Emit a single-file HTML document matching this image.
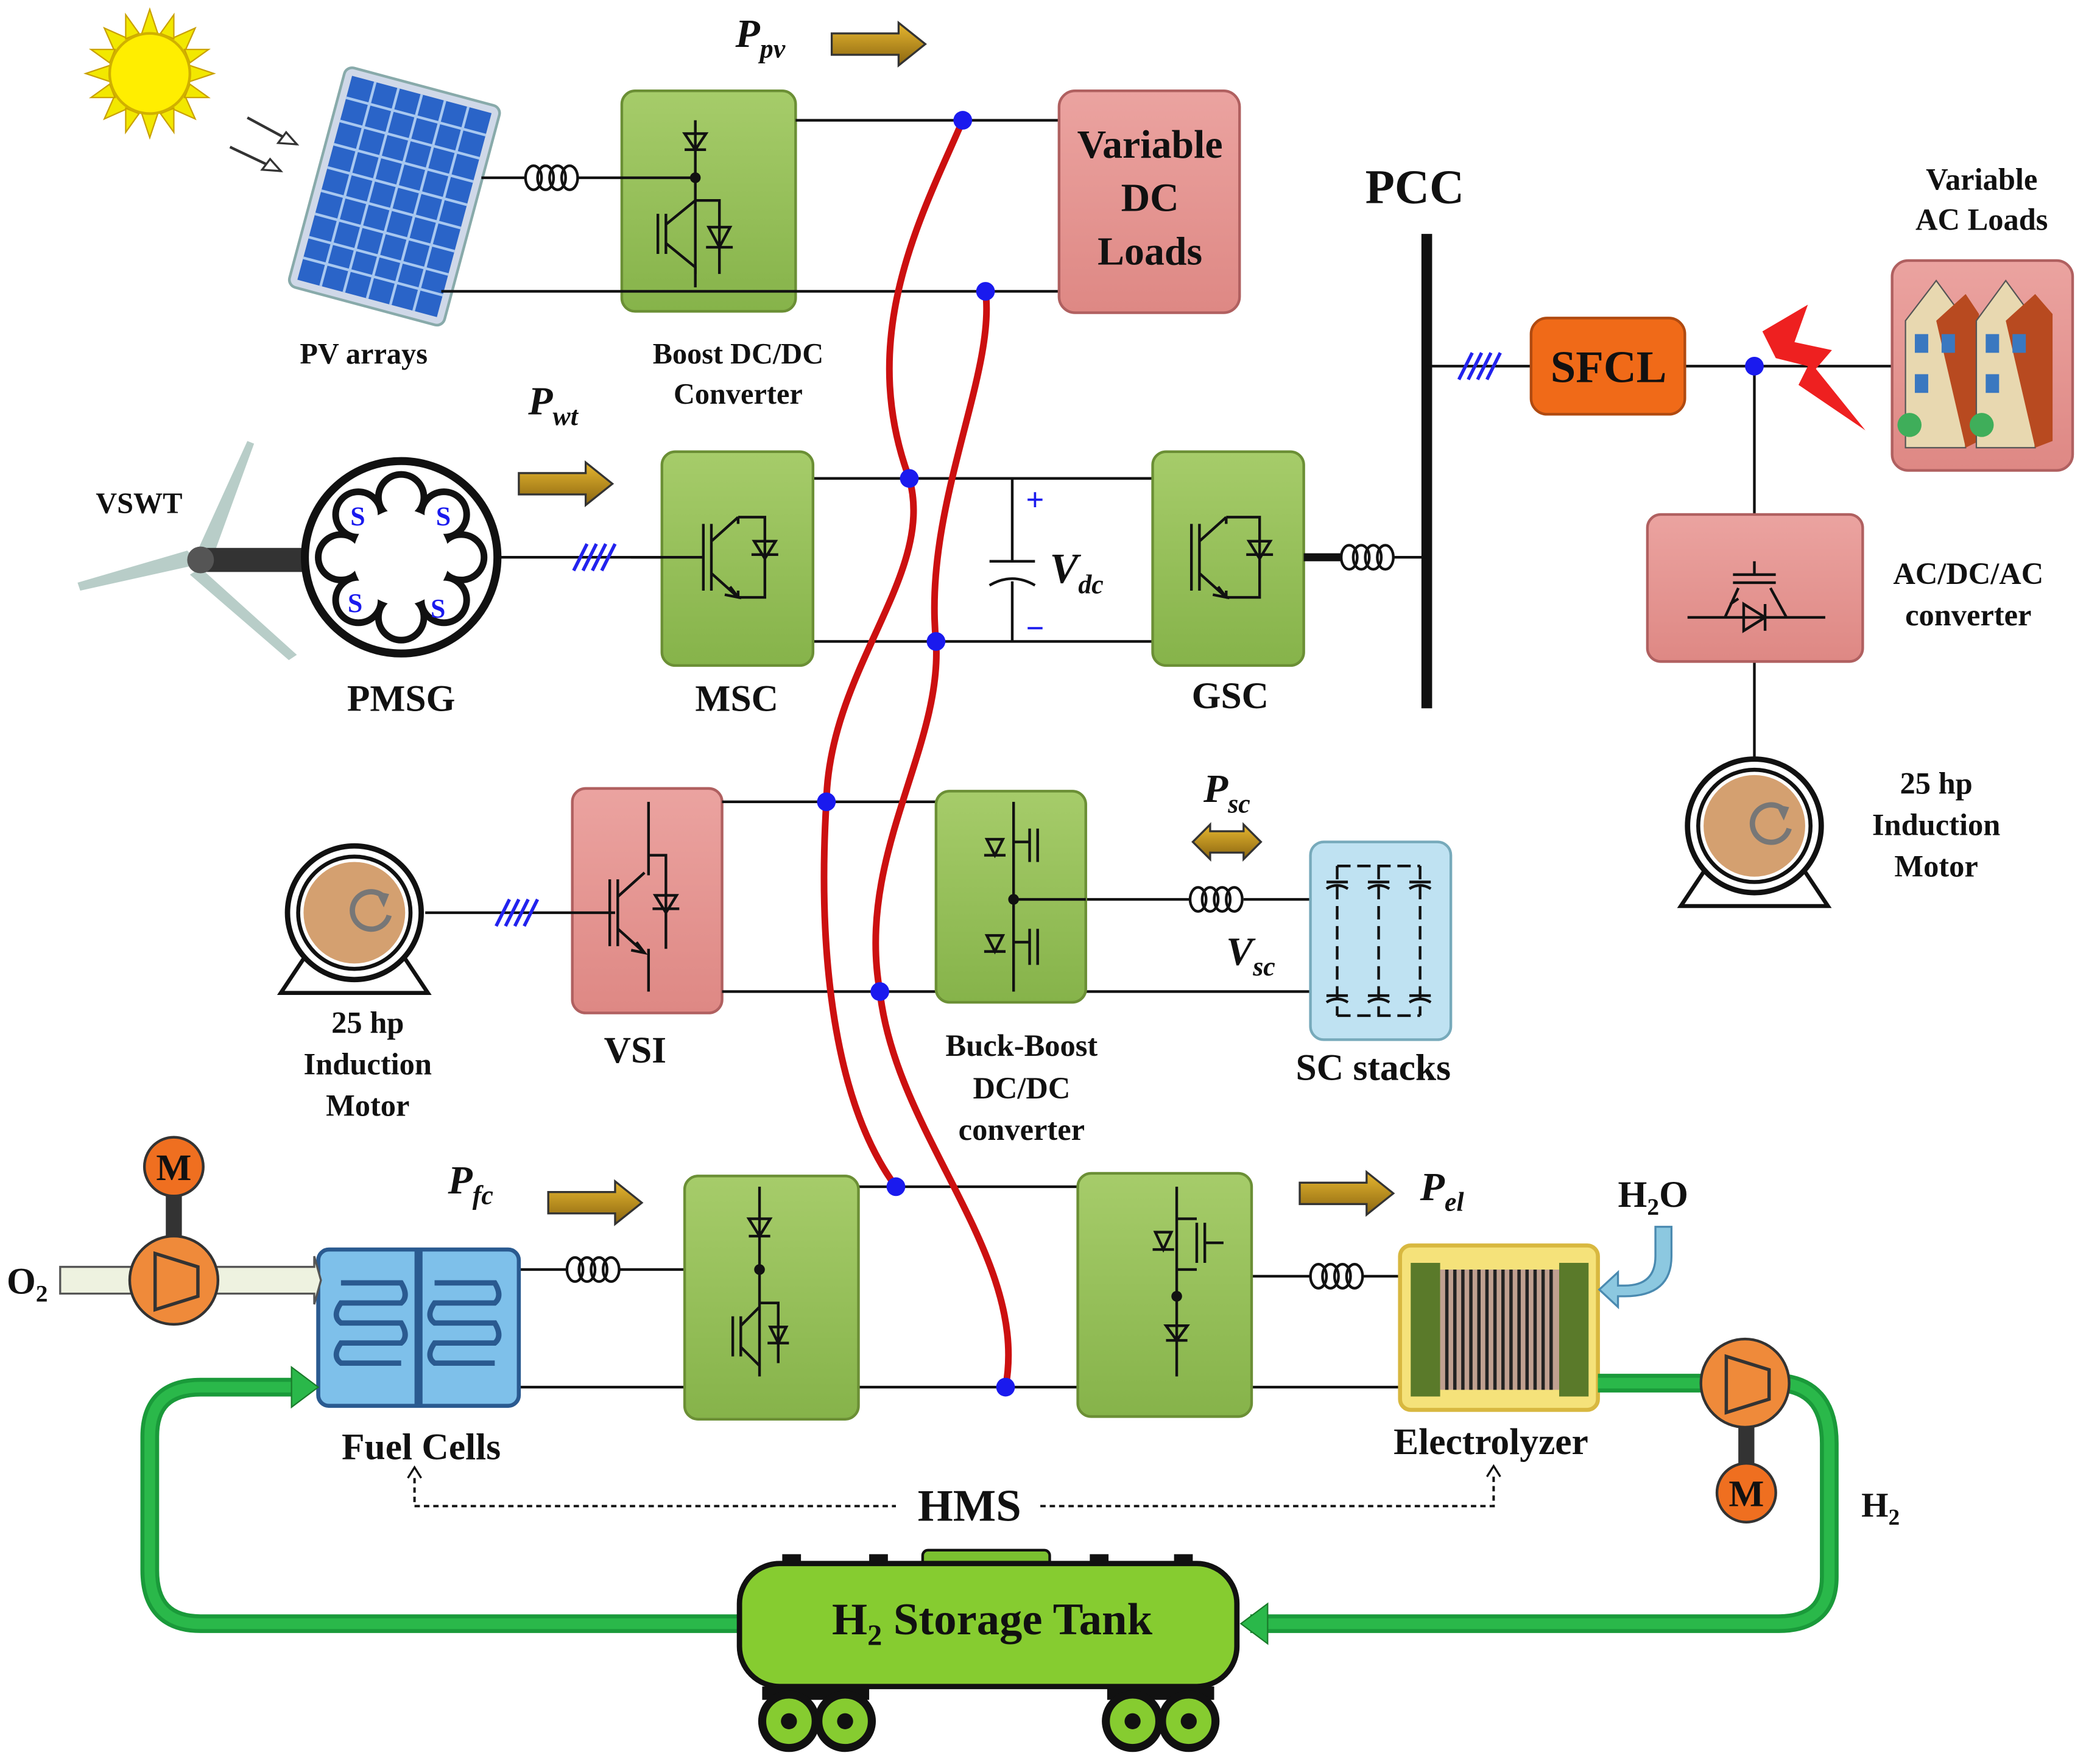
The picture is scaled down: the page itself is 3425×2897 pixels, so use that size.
<!DOCTYPE html>
<html><head><meta charset="utf-8"><style>html,body{margin:0;padding:0;background:#fff}svg{display:block}
text{font-family:"Liberation Serif",serif;font-weight:bold;fill:#111}
.it{font-style:italic}</style></head><body>
<svg width="3425" height="2897" viewBox="0 0 1560 1320" preserveAspectRatio="none" xmlns="http://www.w3.org/2000/svg">
<defs>
<linearGradient id="gr" x1="0" y1="0" x2="0" y2="1"><stop offset="0" stop-color="#a6cc6a"/><stop offset="1" stop-color="#86b34a"/></linearGradient>
<linearGradient id="pk" x1="0" y1="0" x2="0" y2="1"><stop offset="0" stop-color="#eba3a0"/><stop offset="1" stop-color="#de8884"/></linearGradient>
<linearGradient id="ar" x1="0" y1="0" x2="0" y2="1"><stop offset="0" stop-color="#e8b830"/><stop offset="1" stop-color="#8a6510"/></linearGradient>
<g id="ind" fill="none" stroke="#111" stroke-width="2"><ellipse cx="6" cy="0" rx="6" ry="9"/><ellipse cx="15" cy="0" rx="6" ry="9"/><ellipse cx="24" cy="0" rx="6" ry="9"/><ellipse cx="33" cy="0" rx="6" ry="9"/></g>
<g id="arrow"><path d="M0 -8 L50 -8 L50 -16 L70 0 L50 16 L50 8 L0 8 Z" fill="url(#ar)" stroke="#333" stroke-width="1.5"/></g>
<g id="hash"><path d="M-14 10 L-4 -10 M-7 10 L3 -10 M0 10 L10 -10 M7 10 L17 -10" stroke="#2222ee" stroke-width="2.5"/></g>
<g id="sw" fill="none" stroke="#111" stroke-width="2"><path d="M-14 -25 V25 M-8 -25 V25 M-8 -12 L12 -30 M-8 12 L12 30 M6 22 L12 30 L2 28"/></g>
<g id="motor"><path d="M-55 60 L-35 30 L35 30 L55 60 Z" fill="#fff" stroke="#111" stroke-width="3"/><circle r="50" fill="#fff" stroke="#111" stroke-width="4"/><circle r="42" fill="#fff" stroke="#111" stroke-width="3"/><circle r="38" fill="#d4a070"/><path d="M26 2 A14 14 0 1 1 22 -12" fill="none" stroke="#777" stroke-width="4"/><path d="M16 -16 L26 -14 L22 -4 Z" fill="#777"/></g>
<g id="comp"><circle r="33" fill="#ef8a3a" stroke="#333" stroke-width="2"/><path d="M-14 -20 L18 -10 L18 12 L-14 22 Z" fill="#ef8a3a" stroke="#333" stroke-width="2.5"/></g>
<g id="mm"><circle r="22" fill="#ef6f20" stroke="#333" stroke-width="2"/><text x="0" y="10" font-size="28" text-anchor="middle">M</text></g>
</defs>

<!-- sun -->
<g transform="translate(112,55)"><g fill="#f2e800" stroke="#c9a000" stroke-width="1">
<polygon points="0,-48 6,-30 -6,-30" /><polygon points="0,48 6,30 -6,30"/><polygon points="-48,0 -30,6 -30,-6"/><polygon points="48,0 30,6 30,-6"/>
<polygon points="34,-34 26,-16 16,-26"/><polygon points="-34,34 -26,16 -16,26"/><polygon points="34,34 26,16 16,26"/><polygon points="-34,-34 -26,-16 -16,-26"/>
<polygon points="18,-44 18,-26 8,-30"/><polygon points="-18,44 -18,26 -8,30"/><polygon points="44,18 26,18 30,8"/><polygon points="-44,-18 -26,-18 -30,-8"/>
<polygon points="-18,-44 -8,-30 -18,-26"/><polygon points="18,44 8,30 18,26"/><polygon points="44,-18 30,-8 26,-18"/><polygon points="-44,18 -30,8 -26,18"/></g>
<circle r="30" fill="#ffee00" stroke="#d0b000" stroke-width="2"/></g>
<path d="M185 88 L222 108 M172 110 L210 128" stroke="#333" stroke-width="2"/><path d="M222 108 l-14 -1 l6 -8 z M210 128 l-14 -1 l6 -8z" fill="#fff" stroke="#333" stroke-width="1.5"/>
<!-- PV panel -->
<g transform="translate(295,147) rotate(15)"><rect x="-60" y="-85" width="120" height="170" rx="6" fill="#cfd8e8" stroke="#8aa" stroke-width="2"/>
<rect x="-54" y="-79" width="108" height="158" fill="#2a64c8"/>
<g stroke="#a8c8f0" stroke-width="2"><path d="M-36 -79V79M-18 -79V79M0 -79V79M18 -79V79M36 -79V79M-54 -62H54M-54 -44H54M-54 -26H54M-54 -8H54M-54 10H54M-54 28H54M-54 46H54M-54 62H54"/></g></g>
<text x="272" y="272" font-size="22" text-anchor="middle">PV arrays</text>

<!-- Boost box -->
<rect x="465" y="68" width="130" height="165" rx="10" fill="url(#gr)" stroke="#6b8f35" stroke-width="2"/>
<path d="M360 133 H393 M432 133 H520 M330 218 H792 M595 90 H792 M520 90 V205" stroke="#111" stroke-width="2" fill="none"/>
<use href="#ind" x="393" y="133"/>
<circle cx="520" cy="133" r="4" fill="#111"/>
<path d="M512 112 H528 M512 100 L528 100 L520 112 Z" stroke="#111" stroke-width="2" fill="none"/>
<path d="M492 160 V190 M498 160 V190 M498 168 L520 150 M498 182 L520 200 V215 M520 150 H538 V205 M528 185 L548 185 M530 170 L546 170 L538 185 Z" stroke="#111" stroke-width="2" fill="none"/>
<text x="552" y="272" font-size="22" text-anchor="middle">Boost DC/DC</text><text x="552" y="302" font-size="22" text-anchor="middle">Converter</text>
<!-- DC loads -->
<rect x="792" y="68" width="135" height="166" rx="12" fill="url(#pk)" stroke="#b06060" stroke-width="2"/>
<text x="860" y="118" font-size="30" text-anchor="middle">Variable</text><text x="860" y="158" font-size="30" text-anchor="middle">DC</text><text x="860" y="198" font-size="30" text-anchor="middle">Loads</text>
<use href="#arrow" x="622" y="33"/>
<text x="550" y="35" font-size="30" class="it">P<tspan font-size="20" dy="8">pv</tspan></text>

<!-- PCC -->
<path d="M1067 175 V530" stroke="#111" stroke-width="8"/>
<text x="1058" y="152" font-size="36" text-anchor="middle">PCC</text>
<path d="M1067 274 H1145 M1260 274 H1420 M1312 274 V385 M1312 495 V570" stroke="#111" stroke-width="2"/>
<use href="#hash" x="1105" y="274"/>
<rect x="1145" y="238" width="115" height="72" rx="12" fill="#f06a18" stroke="#b04a10" stroke-width="2"/>
<text x="1203" y="286" font-size="34" text-anchor="middle">SFCL</text>
<circle cx="1312" cy="274" r="7" fill="#1a1aee"/>
<polygon points="1318,248 1352,228 1342,256 1370,262 1358,276 1395,322 1345,288 1352,274 1328,268" fill="#ee2020"/>
<!-- houses -->
<rect x="1415" y="195" width="135" height="157" rx="12" fill="url(#pk)" stroke="#b06060" stroke-width="2"/>
<g><polygon points="1425,240 1448,210 1470,240 1470,335 1425,335" fill="#e8d8b0" stroke="#555"/><polygon points="1448,240 1470,220 1480,235 1480,330 1470,335" fill="#b84a20"/>
<rect x="1432" y="250" width="10" height="14" fill="#3a78c0"/><rect x="1452" y="250" width="10" height="14" fill="#3a78c0"/><rect x="1432" y="280" width="10" height="14" fill="#3a78c0"/>
<polygon points="1478,240 1500,210 1522,240 1522,335 1478,335" fill="#e8d8b0" stroke="#555"/><polygon points="1500,240 1522,220 1535,235 1535,330 1522,335" fill="#b84a20"/>
<rect x="1485" y="250" width="10" height="14" fill="#3a78c0"/><rect x="1505" y="250" width="10" height="14" fill="#3a78c0"/><rect x="1485" y="280" width="10" height="14" fill="#3a78c0"/>
<circle cx="1428" cy="318" r="9" fill="#3fae5a"/><circle cx="1482" cy="318" r="9" fill="#3fae5a"/></g>
<text x="1482" y="142" font-size="23" text-anchor="middle">Variable</text><text x="1482" y="172" font-size="23" text-anchor="middle">AC Loads</text>
<!-- AC/DC/AC -->
<rect x="1232" y="385" width="161" height="110" rx="10" fill="url(#pk)" stroke="#b06060" stroke-width="2"/>
<path d="M1262 462 H1290 L1300 440 M1296 430 H1328 M1312 430 V420 M1296 436 H1328 M1324 440 L1336 462 H1365 M1290 462 H1336 M1304 452 L1320 462 L1304 472 Z M1320 452 V472 M1300 448 L1294 452" stroke="#111" stroke-width="2" fill="none"/>
<text x="1472" y="437" font-size="23" text-anchor="middle">AC/DC/AC</text><text x="1472" y="468" font-size="23" text-anchor="middle">converter</text>
<use href="#motor" x="1312" y="618"/>
<text x="1448" y="594" font-size="23" text-anchor="middle">25 hp</text><text x="1448" y="625" font-size="23" text-anchor="middle">Induction</text><text x="1448" y="656" font-size="23" text-anchor="middle">Motor</text>

<!-- wind -->
<path d="M150 422 L60 442 L58 436 L140 412 Z" fill="#b8cdc8"/><path d="M145 418 L185 330 L190 332 L158 420 Z" fill="#b8cdc8"/><path d="M150 425 L222 490 L216 494 L142 430Z" fill="#b8cdc8"/>
<rect x="148" y="410" width="82" height="18" fill="#333"/><circle cx="150" cy="419" r="10" fill="#555"/>
<text x="104" y="384" font-size="22" text-anchor="middle">VSWT</text>
<circle cx="300" cy="417" r="72" fill="#fff" stroke="#111" stroke-width="6"/>
<g fill="none" stroke="#111" stroke-width="5"><circle cx="300" cy="372" r="17"/><circle cx="300" cy="462" r="17"/><circle cx="255" cy="417" r="17"/><circle cx="345" cy="417" r="17"/><circle cx="268" cy="385" r="17"/><circle cx="332" cy="385" r="17"/><circle cx="268" cy="449" r="17"/><circle cx="332" cy="449" r="17"/></g>
<circle cx="300" cy="417" r="36" fill="#fff"/>
<g font-size="20"><text x="262" y="393" style="fill:#1a1aee">S</text><text x="326" y="393" style="fill:#1a1aee">S</text><text x="260" y="458" style="fill:#1a1aee">S</text><text x="322" y="462" style="fill:#1a1aee">S</text></g>
<text x="300" y="532" font-size="28" text-anchor="middle">PMSG</text>
<path d="M372 417 H495" stroke="#111" stroke-width="2"/><use href="#hash" x="443" y="417"/>
<use href="#arrow" x="388" y="362"/>
<text x="395" y="310" font-size="30" class="it">P<tspan font-size="20" dy="8">wt</tspan></text>

<!-- MSC/GSC -->
<path d="M608 358 H862 M608 480 H862 M555 358 V385 M555 450 V480 M757 358 V420 M757 435 V480 M740 420 H774 M740 438 Q757 428 774 438 M930 358 V385 M930 450 V480 M1042 417 H1067 M555 380 H578 V450 M930 380 H950 V450" stroke="#111" stroke-width="2" fill="none"/>
<rect x="495" y="338" width="113" height="160" rx="10" fill="url(#gr)" stroke="#6b8f35" stroke-width="2"/>
<rect x="862" y="338" width="113" height="160" rx="10" fill="url(#gr)" stroke="#6b8f35" stroke-width="2"/>
<use href="#sw" x="540" y="417"/><path d="M552 387 V392 M552 442 V447 M552 387 H572 V447 H552 M562 415 H582 M564 405 L580 405 L572 418Z M472 417 H526" stroke="#111" stroke-width="2" fill="none"/>
<use href="#sw" x="905" y="417"/><path d="M917 387 V392 M917 442 V447 M917 387 H942 V447 H917 M932 415 H952 M934 405 L950 405 L942 418Z" stroke="#111" stroke-width="2" fill="none"/>
<path d="M975 417 H1003" stroke="#111" stroke-width="6"/>
<use href="#ind" x="1003" y="417"/>
<text x="774" y="382" font-size="24" text-anchor="middle" style="fill:#1a1aee">+</text>
<text x="774" y="478" font-size="24" text-anchor="middle" style="fill:#1a1aee">−</text>
<text x="785" y="436" font-size="32" class="it">V<tspan font-size="20" dy="8">dc</tspan></text>
<text x="551" y="532" font-size="28" text-anchor="middle">MSC</text><text x="920" y="530" font-size="28" text-anchor="middle">GSC</text>

<!-- VSI row -->
<rect x="428" y="590" width="112" height="168" rx="10" fill="url(#pk)" stroke="#b06060" stroke-width="2"/>
<path d="M540 600 H700 M540 742 H980 M485 600 V655 M485 710 V742 M485 640 H498 V710 M318 683 H460 M812 673 H890 M930 673 H980" stroke="#111" stroke-width="2" fill="none"/>
<use href="#sw" x="470" y="683"/><path d="M488 680 H508 M490 670 L506 670 L498 683Z" stroke="#111" stroke-width="2" fill="none"/>
<use href="#hash" x="385" y="683"/>
<use href="#motor" x="265" y="683"/>
<text x="275" y="773" font-size="23" text-anchor="middle">25 hp</text><text x="275" y="804" font-size="23" text-anchor="middle">Induction</text><text x="275" y="835" font-size="23" text-anchor="middle">Motor</text>
<text x="475" y="795" font-size="28" text-anchor="middle">VSI</text>
<rect x="700" y="592" width="112" height="158" rx="10" fill="url(#gr)" stroke="#6b8f35" stroke-width="2"/>
<path d="M758 600 V742 M758 630 H770 M758 705 H770 M770 620 V645 M776 620 V645 M736 640 H752 M738 628 L750 628 L744 640Z M736 712 H752 M738 700 L750 700 L744 712Z M770 695 V722 M776 695 V722 M758 673 H812" stroke="#111" stroke-width="2" fill="none"/>
<circle cx="758" cy="673" r="4" fill="#111"/>
<use href="#ind" x="890" y="673"/>
<path d="M892 630 L905 617 L905 622 L930 622 L930 617 L943 630 L930 643 L930 638 L905 638 L905 643 Z" fill="url(#ar)" stroke="#333" stroke-width="1.5"/>
<text x="900" y="600" font-size="30" class="it">P<tspan font-size="20" dy="8">sc</tspan></text>
<text x="917" y="722" font-size="30" class="it">V<tspan font-size="20" dy="8">sc</tspan></text>
<rect x="980" y="630" width="105" height="148" rx="10" fill="#bfe2f2" stroke="#7ab" stroke-width="2"/>
<path d="M1000 648 H1062 M1000 760 H1062 M1000 648 V760 M1031 648 V760 M1062 648 V760" stroke="#111" stroke-width="2" stroke-dasharray="10 5" fill="none"/>
<path d="M992 660 H1008 M992 665 Q1000 660 1008 665 M1023 660 H1039 M1023 665 Q1031 660 1039 665 M1054 660 H1070 M1054 665 Q1062 660 1070 665 M992 745 H1008 M992 750 Q1000 745 1008 750 M1023 745 H1039 M1023 750 Q1031 745 1039 750 M1054 745 H1070 M1054 750 Q1062 745 1070 750" stroke="#111" stroke-width="2" fill="none"/>
<text x="1027" y="808" font-size="28" text-anchor="middle">SC stacks</text>
<text x="764" y="790" font-size="23" text-anchor="middle">Buck-Boost</text><text x="764" y="822" font-size="23" text-anchor="middle">DC/DC</text><text x="764" y="853" font-size="23" text-anchor="middle">converter</text>

<!-- bottom row -->
<path d="M642 888 H806 M388 1038 H1047 M388 950 H424 M463 950 H568 M936 955 H980 M1019 955 H1047 M568 888 V1030 M880 888 V1030 M880 970 H920 V955 M568 950 V975" stroke="#111" stroke-width="2" fill="none"/>
<rect x="512" y="880" width="130" height="182" rx="10" fill="url(#gr)" stroke="#6b8f35" stroke-width="2"/>
<rect x="806" y="878" width="130" height="182" rx="10" fill="url(#gr)" stroke="#6b8f35" stroke-width="2"/>
<path d="M568 888 V1030 M560 925 H576 M560 912 L576 912 L568 925Z M548 985 V1015 M554 985 V1015 M554 992 L568 978 M554 1008 L568 1022 M568 975 H582 V1020 M574 1005 H590 M576 993 L588 993 L582 1005Z" stroke="#111" stroke-width="2" fill="none"/>
<circle cx="568" cy="950" r="4" fill="#111"/>
<path d="M880 888 V1030 M872 1003 H888 M872 992 L888 992 L880 1003Z M880 912 H895 M895 915 V945 M901 915 V945 M880 950 H895 M862 935 H878 M864 922 L876 922 L870 935 Z M901 930 H915" stroke="#111" stroke-width="2" fill="none"/>
<circle cx="880" cy="970" r="4" fill="#111"/>
<use href="#ind" x="424" y="950"/><use href="#ind" x="980" y="955"/>
<use href="#arrow" x="410" y="900"/><use href="#arrow" x="972" y="893"/>
<text x="335" y="893" font-size="30" class="it">P<tspan font-size="20" dy="8">fc</tspan></text>
<text x="1062" y="898" font-size="30" class="it">P<tspan font-size="20" dy="8">el</tspan></text>
<!-- fuel cell -->
<rect x="238" y="935" width="150" height="117" rx="8" fill="#7ec0ea" stroke="#2a5a90" stroke-width="3"/>
<path d="M313 935 V1052" stroke="#2a5a90" stroke-width="6"/>
<path d="M255 960 H300 Q306 970 300 975 H255 Q248 985 255 990 H300 Q306 1000 300 1005 H255 Q248 1015 255 1020 H300 M325 960 H370 Q376 970 370 975 H325 Q318 985 325 990 H370 Q376 1000 370 1005 H325 Q318 1015 325 1020 H370" stroke="#2a5a90" stroke-width="4" fill="none"/>
<text x="315" y="1092" font-size="28" text-anchor="middle">Fuel Cells</text>
<!-- O2 & compressor -->
<path d="M45 948 H235 L235 940 L240 958 L235 976 L235 968 H45 Z" fill="#eef2e0" stroke="#555" stroke-width="1.5"/>
<rect x="124" y="890" width="12" height="40" fill="#333"/>
<use href="#comp" x="130" y="958"/><use href="#mm" x="130" y="873"/>
<text x="5" y="968" font-size="28">O<tspan font-size="18" dy="6">2</tspan></text>
<!-- electrolyzer -->
<rect x="1047" y="932" width="148" height="123" rx="8" fill="#f5e27a" stroke="#d8b840" stroke-width="3"/>
<rect x="1055" y="945" width="22" height="100" fill="#5a7a2a"/><rect x="1166" y="945" width="22" height="100" fill="#5a7a2a"/>
<rect x="1077" y="950" width="89" height="90" fill="#c0a090"/>
<path d="M1082 950V1040M1088 950V1040M1094 950V1040M1100 950V1040M1106 950V1040M1112 950V1040M1118 950V1040M1124 950V1040M1130 950V1040M1136 950V1040M1142 950V1040M1148 950V1040M1154 950V1040M1160 950V1040" stroke="#222" stroke-width="2.5"/>
<text x="1115" y="1088" font-size="28" text-anchor="middle">Electrolyzer</text>
<path d="M1238 918 V940 Q1238 962 1215 962 H1210 L1210 952 L1196 965 L1210 978 L1210 970 H1215 Q1250 970 1250 940 V918 Z" fill="#8cc8e0" stroke="#4a8ab0" stroke-width="1.5"/>
<text x="1210" y="903" font-size="28">H<tspan font-size="18" dy="6">2</tspan><tspan dy="-6">O</tspan></text>
<!-- green pipes -->
<path d="M1195 1035 H1275 M1335 1035 Q1368 1040 1368 1080 V1180 Q1368 1215 1330 1215 H935" fill="none" stroke="#1a9a3a" stroke-width="14"/>
<path d="M1195 1035 H1275 M1335 1035 Q1368 1040 1368 1080 V1180 Q1368 1215 1330 1215 H940" fill="none" stroke="#2ab84a" stroke-width="8"/>
<polygon points="928,1215 948,1200 948,1230" fill="#2ab84a" stroke="#1a7a2a"/>
<path d="M553 1215 H150 Q112 1215 112 1175 V1075 Q112 1038 150 1038 H222" fill="none" stroke="#1a9a3a" stroke-width="14"/>
<path d="M553 1215 H150 Q112 1215 112 1175 V1075 Q112 1038 150 1038 H222" fill="none" stroke="#2ab84a" stroke-width="8"/>
<polygon points="238,1038 218,1023 218,1053" fill="#2ab84a" stroke="#1a7a2a"/>
<rect x="1300" y="1060" width="12" height="40" fill="#333"/>
<use href="#comp" x="1305" y="1035"/><use href="#mm" x="1306" y="1117"/>
<text x="1392" y="1135" font-size="26">H<tspan font-size="17" dy="6">2</tspan></text>
<!-- HMS -->
<path d="M310 1106 V1127 H670 M778 1127 H1117 V1105" fill="none" stroke="#111" stroke-width="1.8" stroke-dasharray="4 3"/>
<path d="M305 1106 L310 1098 L315 1106 M1112 1105 L1117 1097 L1122 1105" fill="none" stroke="#111" stroke-width="1.5"/>
<text x="725" y="1138" font-size="34" text-anchor="middle">HMS</text>
<!-- tank -->
<rect x="690" y="1160" width="95" height="14" rx="4" fill="#7ac030" stroke="#111" stroke-width="2"/>
<rect x="585" y="1163" width="14" height="10" fill="#111"/><rect x="650" y="1163" width="14" height="10" fill="#111"/><rect x="815" y="1163" width="14" height="10" fill="#111"/><rect x="878" y="1163" width="14" height="10" fill="#111"/>
<rect x="553" y="1170" width="372" height="92" rx="30" fill="#86cc30" stroke="#111" stroke-width="4"/>
<text x="742" y="1223" font-size="34" text-anchor="middle">H<tspan font-size="22" dy="8">2</tspan><tspan dy="-8"> Storage Tank</tspan></text>
<rect x="570" y="1262" width="80" height="10" fill="#111"/><rect x="828" y="1262" width="80" height="10" fill="#111"/>
<g fill="#86cc30" stroke="#111" stroke-width="6"><circle cx="590" cy="1288" r="20"/><circle cx="632" cy="1288" r="20"/><circle cx="847" cy="1288" r="20"/><circle cx="889" cy="1288" r="20"/></g>
<g fill="#111"><circle cx="590" cy="1288" r="6"/><circle cx="632" cy="1288" r="6"/><circle cx="847" cy="1288" r="6"/><circle cx="889" cy="1288" r="6"/></g>

<!-- red DC bus curves -->
<path d="M720 90 C690 160 640 250 680 358 C700 430 620 500 618 600 C612 700 620 820 670 888" fill="none" stroke="#cc1010" stroke-width="5"/>
<path d="M737 218 C745 280 690 380 700 480 C705 560 640 640 658 742 C670 850 770 940 752 1038" fill="none" stroke="#cc1010" stroke-width="5"/>
<g fill="#1a1aee"><circle cx="720" cy="90" r="7"/><circle cx="737" cy="218" r="7"/><circle cx="680" cy="358" r="7"/><circle cx="700" cy="480" r="7"/><circle cx="618" cy="600" r="7"/><circle cx="658" cy="742" r="7"/><circle cx="670" cy="888" r="7"/><circle cx="752" cy="1038" r="7"/></g>
</svg>
</body></html>
